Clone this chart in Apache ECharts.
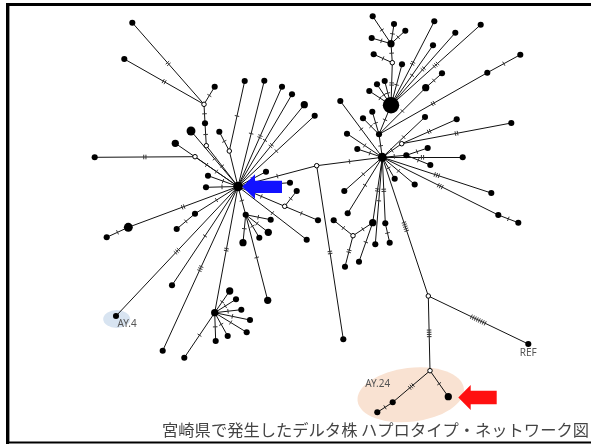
<!DOCTYPE html>
<html><head><meta charset="utf-8">
<script src="https://cdn.jsdelivr.net/npm/echarts@6/dist/echarts.min.js"></script>
<style>html,body{margin:0;padding:0;background:#fff}#c{width:591px;height:444px}</style>
</head><body><div id="c"></div>
<script>
// Haplotype nodes: name, x, y (network layout coordinates), count (0 = median vector)
const nodeNames = ['L','h1','n1','n2','n3','n4','h2','n5','n6','h3','n7','n8','n9','h4','n10','n11','n12','n13','n14','n15','n16','n17','n18','n19','h5','n20','n21','J','n22','n23','n24','n25','n26','n27','n28','S1','n29','n30','n31','n32','n33','n34','n35','n36','S2','n37','n38','n39','n40','n41','n42',
 'R','B','U','u1','u2','u3','u4','h6','u5','b1','b2','b3','b4','b5','b6','b7','b8','Q','q1','q2','q3','q4','q5','q6','r1','r2','r3','r4','h7','r5','r6','T','t1','t2','r7','r8','r9','r10','r11','r12','r13','r14','V','h8','v1','v2','v3','v4','W','w1','H9','REF','H10','a1','a2','a3'];
const nodeX = [238,204,132.3,124.3,214.7,205,206.3,191,219.3,229.3,244.7,175.3,94.7,195,208,206,264.3,282,292,304.3,314.7,266,290,296.7,284.7,318,306.7,316.7,128.3,106.7,195,176.7,116,172,162.7,214.7,184.3,229.7,236,241.3,250,246.7,227.7,215.7,245.7,270.7,268.3,259.3,243,267.7,343.3,
 382.3,391,391,372.7,394,405.3,371.7,392.3,373.7,402,384.7,377,369.3,434.3,455.3,480.7,433,379,425.7,442,487.3,520.3,363,372.3,340.3,347,357.3,425,401.7,456.7,511.3,406.3,427.7,430.3,462.7,344.3,394.7,414.7,491.3,498.3,518.3,347.7,372.7,353,333.7,345,359,375.3,385.3,389.7,428.3,528.3,430,448.3,392.7,377.3];
const nodeY = [186.5,104.3,22.7,59,86.7,123.3,145.7,131,131.7,151,81,143.3,157.3,156.7,175.7,187.3,80.7,86.7,94.3,104.7,115.7,171.7,182.7,191,206.3,220.3,239.7,165.7,227.3,237.3,213.7,229,316,285.3,350.7,312.7,357.7,291,299.3,309.7,320,332.3,336,341,214.7,219.7,232.3,237.7,242.7,300.3,339.3,
 157.3,105.3,43.7,16.3,24,30.7,38,62.7,54.3,64.3,81,84.3,91,21.3,32.7,24.7,45.3,134.3,87.7,73.3,72.7,54.7,118.3,111.7,101,133.7,149,117,143.7,119.3,123,155.3,148,165,157.3,191,178.7,184.5,193,215,222.7,213.3,222.7,235.7,220.3,266.7,261.7,244.3,223.3,242.7,296,344,370.7,396.7,402.3,412.3];
const nodeCount = [5,0,1,1,1,1,0,4,1,0,1,2,1,0,1,1,1,1,1,2,1,1,1,1,0,1,1,0,4,1,1,1,1,1,1,2,1,2,1,1,1,1,1,1,1,1,2,1,2,2,1,
 4,22,2,1,1,1,1,0,1,1,1,1,1,1,1,1,1,1,2,1,1,1,1,1,1,1,1,1,0,1,1,1,1,1,1,1,1,1,1,1,1,1,2,0,1,1,1,1,1,1,0,1,0,2,1,1];
// Links: source, target, number of mutations
const linkSource = ['h1','h1','h1','h1','n4','h2','n5','n6','h3','h3','n8','n9','h4','n10','n11','n12','n13','n14','n15','n16','n17','n18','n19','h5','h5','n21','J','J','J','n22','n22','n24','n24','n26','n27','n28','S1','S1','S1','S1','S1','S1','S1','S1','S1','S2','S2','S2','S2','S2','S2',
 'U','U','U','U','U','h6','h6','b1','b2','b3','b4','b5','b6','b7','b8','Q','Q','q1','q2','q3','q4','q5','q6','r1','r2','r3','r4','h7','h7','h7','T','T','T','r7','r8','r9','r10','r11','r12','r12','r14','V','h8','h8','h8','V','v4','W','W','H9','H9','H9','H10','H10','a2'];
const linkTarget = ['n1','n2','n3','n4','h2','L','L','h3','n7','L','L','h4','L','L','L','L','L','L','L','L','L','L','h5','L','n20','L','L','R','n42','L','n23','L','n25','L','L','L','L','n29','n30','n31','n32','n33','n34','n35','n36','L','n37','n38','n39','n40','n41',
 'u1','u2','u3','u4','h6','u5','B','B','B','B','B','B','B','B','B','B','R','Q','q1','Q','q3','Q','Q','R','R','R','R','R','r5','r6','R','t1','t2','R','R','R','R','R','R','r13','R','R','V','v1','v2','v3','R','R','w1','R','REF','H10','a1','a2','a3'];
const linkMutations = [2,2,1,1,1,1,1,1,1,0,1,2,1,1,1,1,2,1,2,1,1,0,1,1,1,1,1,1,2,2,1,1,1,3,1,3,2,1,1,1,1,1,1,1,1,1,1,1,1,1,1,
 1,1,1,1,1,1,2,1,1,1,1,2,2,3,1,1,1,1,1,2,1,1,1,1,1,1,1,1,2,2,1,1,1,2,1,1,1,3,3,1,1,2,1,1,2,1,1,2,1,5,8,4,1,3,1];
const labelNodes = ['REF','a2','n26'];
const labelTexts = ['REF','AY.24','AY.4'];

const idx = {}; nodeNames.forEach((n,i)=>idx[n]=i);
function sizeOf(c){ return c===0 ? 4.5 : 3.3 + 2.8*Math.sqrt(c); }
const nodes = nodeNames.map((n,i)=>{
  const hollow = nodeCount[i]===0;
  return {name:n, value:[nodeX[i],nodeY[i]], symbolSize:sizeOf(nodeCount[i]),
    itemStyle: hollow ? {color:'#fff',borderColor:'#000',borderWidth:1} : {color:'#000',borderWidth:0}};
});
const links = linkSource.map((s,i)=>({source:s,target:linkTarget[i]}));
const tickData = linkSource.map((s,i)=>{
  const a=idx[s], b=idx[linkTarget[i]];
  return [nodeX[a],nodeY[a],nodeX[b],nodeY[b],linkMutations[i]];
});
const labelData = labelNodes.map((n,i)=>[nodeX[idx[n]],nodeY[idx[n]],labelTexts[i]]);

const chart = echarts.init(document.getElementById('c'), null, {renderer:'canvas'});
chart.setOption({
  animation:false,
  grid:{left:0,right:0,top:0,bottom:0},
  xAxis:{type:'value',min:0,max:591,show:false},
  yAxis:{type:'value',min:0,max:444,inverse:true,show:false},
  graphic:[
    {type:'circle',z:0,x:116.7,y:319,scaleX:13.5,scaleY:9,shape:{cx:0,cy:0,r:1},style:{fill:'#d8e4f1'}},
    {type:'circle',z:0,x:410.7,y:394.7,scaleX:53.5,scaleY:27,rotation:0.12,shape:{cx:0,cy:0,r:1},style:{fill:'#f9e2d2'}},
    {type:'polygon',z:100,shape:{points:[[242.3,186.7],[255,174.3],[255,180.7],[282,180.7],[282,193],[255,193],[255,199]]},style:{fill:'#1212ff'}},
    {type:'polygon',z:100,shape:{points:[[458.3,397.5],[470.7,385],[470.7,390.7],[496.7,390.7],[496.7,404.3],[470.7,404.3],[470.7,410]]},style:{fill:'#ff1010'}},
    {type:'rect',z:100,shape:{x:6,y:3,width:585,height:3},style:{fill:'#000'}},
    {type:'rect',z:100,shape:{x:6,y:3,width:3,height:441},style:{fill:'#000'}},
    {type:'rect',z:100,shape:{x:9,y:6,width:1,height:436},style:{fill:'#999'}},
    {type:'rect',z:100,shape:{x:6,y:441.5,width:585,height:2},style:{fill:'#000'}},
    {type:'text',z:100,x:589,y:438,style:{text:'宮崎県で発生したデルタ株 ハプロタイプ・ネットワーク図',font:'16.3px "Noto Sans CJK JP"',fill:'#444',align:'right',verticalAlign:'bottom'}}
  ],
  series:[
    {type:'graph',coordinateSystem:'cartesian2d',z:3,silent:true,
     data:nodes,links:links,symbol:'circle',
     lineStyle:{color:'#111',width:1,opacity:1,curveness:0},
     label:{show:false}},
    {type:'custom',coordinateSystem:'cartesian2d',z:4,silent:true,data:tickData,
     renderItem:function(params,api){
       const p1=api.coord([api.value(0),api.value(1)]), p2=api.coord([api.value(2),api.value(3)]);
       const n=api.value(4); const dx=p2[0]-p1[0], dy=p2[1]-p1[1]; const len=Math.hypot(dx,dy);
       const ux=dx/len, uy=dy/len, px=-uy, py=ux; const mx=(p1[0]+p2[0])/2, my=(p1[1]+p2[1])/2;
       const children=[];
       for(let k=0;k<n;k++){
         const o=(k-(n-1)/2)*2.2; const cx=mx+ux*o, cy=my+uy*o;
         children.push({type:'line',shape:{x1:cx-px*2.3,y1:cy-py*2.3,x2:cx+px*2.3,y2:cy+py*2.3},style:{stroke:'#333',lineWidth:1}});
       }
       return {type:'group',children:children};
     }},
    {type:'custom',coordinateSystem:'cartesian2d',z:5,silent:true,data:labelData,
     renderItem:function(params,api){
       const p=api.coord([api.value(0),api.value(1)]); const t=labelTexts[params.dataIndex];
       let x=p[0], y=p[1];
       if(t==='REF'){ y+=9; } else if(t==='AY.24'){ x-=15; y-=18; } else { x+=11; y+=8; }
       return {type:'text',x:x,y:y,style:{text:t,font:'10px "Noto Sans"',fill:'#555',align:'center',verticalAlign:'middle'}};
     }}
  ]
});
</script></body></html>
